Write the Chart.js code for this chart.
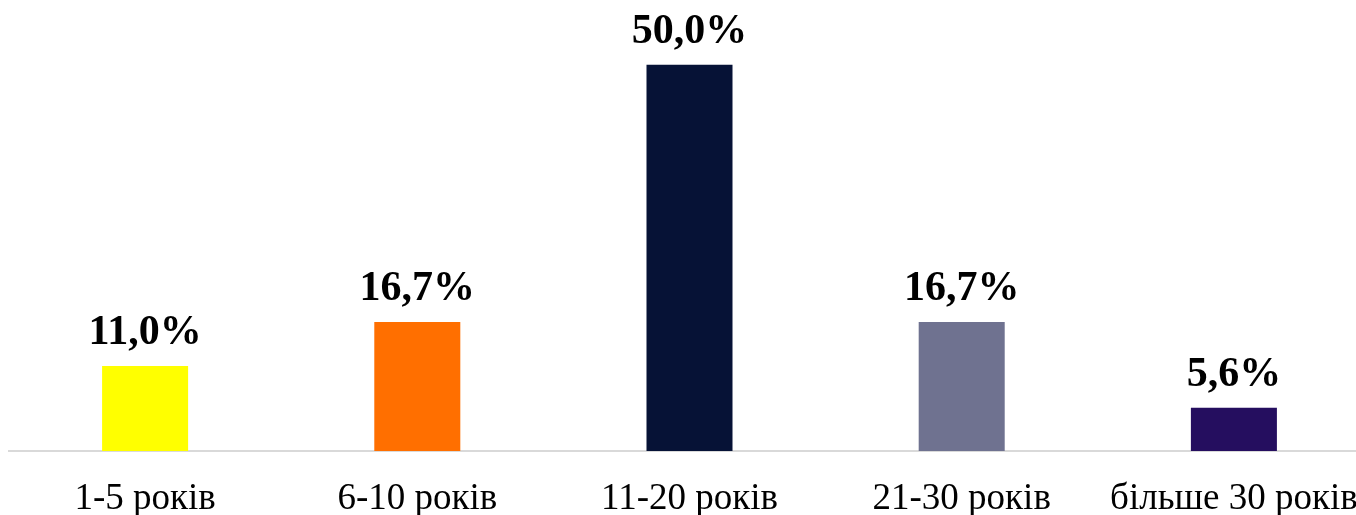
<!DOCTYPE html>
<html>
<head>
<meta charset="utf-8">
<script src="https://cdn.jsdelivr.net/npm/chart.js@4"></script>
<style>
  html, body { margin: 0; padding: 0; background: #fff; overflow: hidden; }
  #wrap { width: 1370px; height: 515px; position: relative; }
</style>
</head>
<body>
<div id="wrap"><canvas id="c"></canvas></div>
<script>
const categories = ["1-5 років", "6-10 років", "11-20 років", "21-30 років", "більше 30 років"];
const values = [11.0, 16.7, 50.0, 16.7, 5.6];
const valueLabels = ["11,0%", "16,7%", "50,0%", "16,7%", "5,6%"];
const barColors = ["#FFFF00", "#FF6F00", "#061236", "#6F7290", "#250E5F"];

const labelPlugin = {
  id: 'valueLabels',
  afterDatasetsDraw(chart) {
    const ctx = chart.ctx;
    const meta = chart.getDatasetMeta(0);
    ctx.save();
    ctx.font = 'bold 42px "Liberation Serif", "Times New Roman", serif';
    ctx.fillStyle = '#000';
    ctx.textAlign = 'center';
    ctx.textBaseline = 'alphabetic';
    meta.data.forEach((bar, i) => {
      ctx.fillText(valueLabels[i], bar.x, bar.y - 22);
    });
    ctx.restore();
  }
};

new Chart(document.getElementById('c'), {
  type: 'bar',
  data: {
    labels: categories,
    datasets: [{
      data: values,
      backgroundColor: barColors,
      borderWidth: 0,
      categoryPercentage: 1,
      barPercentage: 0.316
    }]
  },
  options: {
    responsive: true,
    maintainAspectRatio: false,
    animation: false,
    layout: { padding: { left: 9, right: 0, top: 0, bottom: 0 } },
    plugins: { legend: { display: false }, tooltip: { enabled: false } },
    scales: {
      x: {
        grid: { display: false, drawTicks: false },
        border: { display: true, color: '#d9d9d9', width: 2 },
        afterFit(scale) {
          scale.height = 64;
          scale.paddingLeft = 0;
          scale.paddingRight = 0;
        },
        ticks: {
          color: '#000',
          padding: 26,
          maxRotation: 0,
          font: { family: '"Liberation Serif", "Times New Roman", serif', size: 37 }
        }
      },
      y: {
        display: false,
        min: 0,
        max: 58.4
      }
    }
  },
  plugins: [labelPlugin]
});
</script>
</body>
</html>
